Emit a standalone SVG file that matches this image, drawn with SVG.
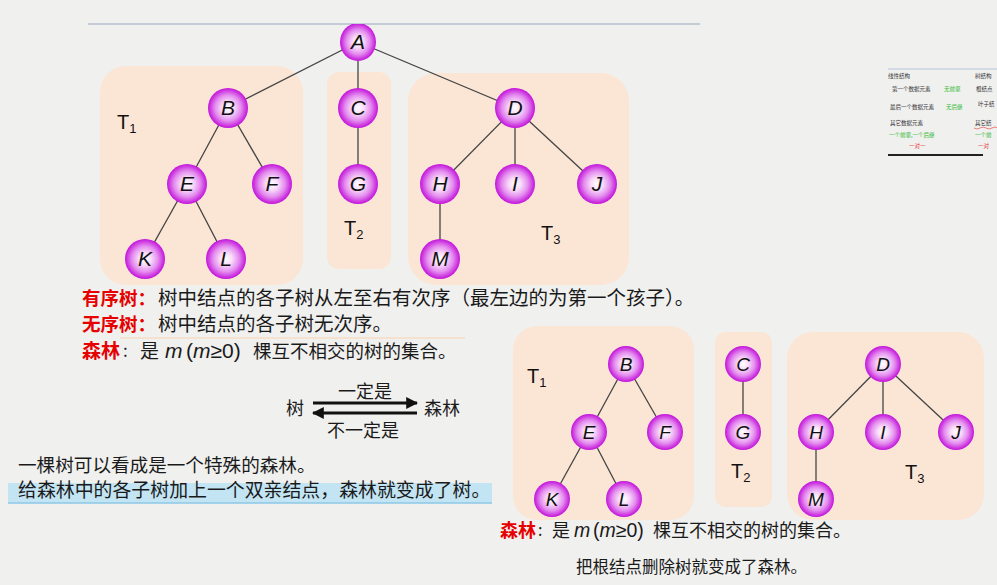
<svg xmlns="http://www.w3.org/2000/svg" width="997" height="585" viewBox="0 0 997 585">
<defs>
<radialGradient id="ball" cx="50%" cy="50%" r="50%">
<stop offset="0" stop-color="#ffffff"/>
<stop offset="0.3" stop-color="#f9dcf9"/>
<stop offset="0.65" stop-color="#e48cef"/>
<stop offset="1" stop-color="#c313da"/>
</radialGradient>
<marker id="ah" viewBox="0 0 10 10" refX="9" refY="5" markerWidth="4" markerHeight="4" orient="auto" markerUnits="strokeWidth">
<path d="M0,0 L10,5 L0,10 z" fill="#111"/>
</marker>
<clipPath id="topclip"><rect x="0" y="24" width="997" height="561"/></clipPath>
</defs>
<style>
.box{fill:#fbe6d6}
.edge{stroke:#444;stroke-width:1.3;fill:none}
.nd{fill:url(#ball)}
.lt{font-family:"Liberation Sans",Arial,sans-serif;font-style:italic;fill:#111;text-anchor:middle}
.big{font-size:21px}
.sm{font-size:19px}
.tl{font-family:"Liberation Sans",Arial,sans-serif;fill:#111;font-size:20px}
.sub{font-size:13px}
.cn{font-family:"Noto Sans CJK SC","Liberation Sans",sans-serif;fill:#1a1a1a}
.red{fill:#e60000;font-weight:bold}
.th{font-family:"Noto Sans CJK SC",sans-serif;font-size:5.5px;fill:#333}
.g{fill:#33bb33}
.r{fill:#e53333}
</style>
<rect width="997" height="585" fill="#f0f0ef"/>

<!-- top separator line -->
<line x1="88" y1="24" x2="700" y2="24" stroke="#b4c0cc" stroke-width="1.5"/>

<!-- boxes top -->
<g id="boxes-top">
<rect class="box" x="100" y="66" width="203" height="219" rx="26"/>
<rect class="box" x="327" y="72" width="64" height="197" rx="12"/>
<rect class="box" x="408" y="73" width="221" height="212" rx="28"/>
</g>
<!-- boxes bottom -->
<g id="boxes-bottom">
<rect class="box" x="513" y="326" width="181" height="194" rx="24"/>
<rect class="box" x="715" y="332" width="57" height="175" rx="10"/>
<rect class="box" x="787" y="332" width="197" height="188" rx="26"/>
</g>

<g id="connectors">
<line class="edge" x1="358" y1="42" x2="228" y2="108"/>
<line class="edge" x1="358" y1="42" x2="358" y2="108"/>
<line class="edge" x1="358" y1="42" x2="515" y2="108"/>
<line class="edge" x1="228" y1="108" x2="187" y2="184"/>
<line class="edge" x1="228" y1="108" x2="272" y2="184"/>
<line class="edge" x1="187" y1="184" x2="145" y2="259"/>
<line class="edge" x1="187" y1="184" x2="226" y2="259"/>
<line class="edge" x1="358" y1="108" x2="358" y2="184"/>
<line class="edge" x1="515" y1="108" x2="440" y2="184"/>
<line class="edge" x1="515" y1="108" x2="515" y2="184"/>
<line class="edge" x1="515" y1="108" x2="597" y2="184"/>
<line class="edge" x1="440" y1="184" x2="440" y2="259"/>

<line class="edge" x1="626" y1="364" x2="589" y2="432"/>
<line class="edge" x1="626" y1="364" x2="665" y2="432"/>
<line class="edge" x1="589" y1="432" x2="552" y2="499"/>
<line class="edge" x1="589" y1="432" x2="624" y2="499"/>
<line class="edge" x1="743" y1="364" x2="743" y2="432"/>
<line class="edge" x1="883" y1="364" x2="816" y2="432"/>
<line class="edge" x1="883" y1="364" x2="883" y2="432"/>
<line class="edge" x1="883" y1="364" x2="956" y2="432"/>
<line class="edge" x1="816" y1="432" x2="816" y2="499"/>
</g>

<!-- top tree nodes -->
<g id="A" clip-path="url(#topclip)"><ellipse class="nd" cx="358" cy="42" rx="18" ry="19"/><text class="lt big" x="358" y="49">A</text></g>
<g id="B"><circle class="nd" cx="228" cy="108" r="20"/><text class="lt big" x="228" y="115">B</text></g>
<g id="C"><circle class="nd" cx="358" cy="108" r="20"/><text class="lt big" x="358" y="115">C</text></g>
<g id="D"><circle class="nd" cx="515" cy="108" r="20"/><text class="lt big" x="515" y="115">D</text></g>
<g id="E"><circle class="nd" cx="187" cy="184" r="20"/><text class="lt big" x="187" y="191">E</text></g>
<g id="F"><circle class="nd" cx="272" cy="184" r="20"/><text class="lt big" x="272" y="191">F</text></g>
<g id="G"><circle class="nd" cx="358" cy="184" r="20"/><text class="lt big" x="358" y="191">G</text></g>
<g id="H"><circle class="nd" cx="440" cy="184" r="20"/><text class="lt big" x="440" y="191">H</text></g>
<g id="I"><circle class="nd" cx="515" cy="184" r="20"/><text class="lt big" x="515" y="191">I</text></g>
<g id="J"><circle class="nd" cx="597" cy="184" r="20"/><text class="lt big" x="597" y="191">J</text></g>
<g id="K"><circle class="nd" cx="145" cy="259" r="20"/><text class="lt big" x="145" y="266">K</text></g>
<g id="L"><circle class="nd" cx="226" cy="259" r="20"/><text class="lt big" x="226" y="266">L</text></g>
<g id="M"><circle class="nd" cx="440" cy="259" r="20"/><text class="lt big" x="440" y="266">M</text></g>

<g id="T1-label"><text class="tl" x="117" y="129">T<tspan class="sub" dy="4">1</tspan></text></g>
<g id="T2-label"><text class="tl" x="344" y="235">T<tspan class="sub" dy="4">2</tspan></text></g>
<g id="T3-label"><text class="tl" x="541" y="240">T<tspan class="sub" dy="4">3</tspan></text></g>

<!-- bottom forest nodes -->
<g id="B2"><circle class="nd" cx="626" cy="364" r="18"/><text class="lt sm" x="626" y="371">B</text></g>
<g id="C2"><circle class="nd" cx="743" cy="364" r="18"/><text class="lt sm" x="743" y="371">C</text></g>
<g id="D2"><circle class="nd" cx="883" cy="364" r="18"/><text class="lt sm" x="883" y="371">D</text></g>
<g id="E2"><circle class="nd" cx="589" cy="432" r="18"/><text class="lt sm" x="589" y="439">E</text></g>
<g id="F2"><circle class="nd" cx="665" cy="432" r="18"/><text class="lt sm" x="665" y="439">F</text></g>
<g id="G2"><circle class="nd" cx="743" cy="432" r="18"/><text class="lt sm" x="743" y="439">G</text></g>
<g id="H2"><circle class="nd" cx="816" cy="432" r="18"/><text class="lt sm" x="816" y="439">H</text></g>
<g id="I2"><circle class="nd" cx="883" cy="432" r="18"/><text class="lt sm" x="883" y="439">I</text></g>
<g id="J2"><circle class="nd" cx="956" cy="432" r="18"/><text class="lt sm" x="956" y="439">J</text></g>
<g id="K2"><circle class="nd" cx="552" cy="499" r="18"/><text class="lt sm" x="552" y="506">K</text></g>
<g id="L2"><circle class="nd" cx="624" cy="499" r="18"/><text class="lt sm" x="624" y="506">L</text></g>
<g id="M2"><circle class="nd" cx="816" cy="499" r="18"/><text class="lt sm" x="816" y="506">M</text></g>

<g id="T1b-label"><text class="tl" x="527" y="383" font-size="19">T<tspan class="sub" dy="4">1</tspan></text></g>
<g id="T2b-label"><text class="tl" x="731" y="478" font-size="19">T<tspan class="sub" dy="4">2</tspan></text></g>
<g id="T3b-label"><text class="tl" x="905" y="479" font-size="19">T<tspan class="sub" dy="4">3</tspan></text></g>

<!-- definitions -->
<line x1="120" y1="338" x2="465" y2="338" stroke="#f6dcc6" stroke-width="1.5"/>
<g id="def-ordered">
<text class="cn red" x="82" y="305" font-size="18.5">有序树：</text>
<text class="cn" x="158" y="305" font-size="19.5">树中结点的各子树从左至右有次序（最左边的为第一个孩子）。</text>
</g>
<g id="def-unordered">
<text class="cn red" x="82" y="331" font-size="18.5">无序树：</text>
<text class="cn" x="158" y="331" font-size="19.5">树中结点的各子树无次序。</text>
</g>
<g id="def-forest">
<text class="cn red" x="82" y="358" font-size="19">森林</text>
<text class="cn" x="123" y="357" font-size="17" fill="#777">:</text>
<text class="cn" x="140" y="358" font-size="19">是</text>
<text x="165" y="358" font-family="Liberation Sans,Arial,sans-serif" font-size="21" fill="#1a1a1a"><tspan font-style="italic">m</tspan><tspan x="186">(</tspan><tspan font-style="italic">m</tspan><tspan>≥0)</tspan></text>
<text class="cn" x="253" y="358" font-size="18.5">棵互不相交的树的集合。</text>
</g>

<!-- tree / forest arrows -->
<g id="tree-forest">
<text class="cn" x="286" y="415" font-size="18">树</text>
<text class="cn" x="424" y="415" font-size="18">森林</text>
<text class="cn" x="338" y="398" font-size="18">一定是</text>
<text class="cn" x="327" y="437" font-size="18">不一定是</text>
</g>
<g id="arrows">
<line x1="313" y1="403" x2="417" y2="403" stroke="#111" stroke-width="3" marker-end="url(#ah)"/>
<line x1="417" y1="413" x2="313" y2="413" stroke="#111" stroke-width="3" marker-end="url(#ah)"/>
</g>

<g id="notes">
<text class="cn" x="18" y="472" font-size="18.6">一棵树可以看成是一个特殊的森林。</text>
<rect x="8" y="483" width="484" height="20" fill="#c3e4f3"/>
<line x1="8" y1="503" x2="492" y2="503" stroke="#8cc8e6" stroke-width="1.5"/>
<text class="cn" x="18" y="497" font-size="18.9" fill="#3f4a55">给森林中的各子树加上一个双亲结点，森林就变成了树。</text>
</g>

<g id="forest-def2">
<text class="cn red" x="500" y="537" font-size="18">森林</text>
<text class="cn" x="538" y="536" font-size="16" fill="#777">:</text>
<text class="cn" x="552" y="537" font-size="18">是</text>
<text x="574" y="537" font-family="Liberation Sans,Arial,sans-serif" font-size="19.5" fill="#1a1a1a"><tspan font-style="italic">m</tspan><tspan x="593">(</tspan><tspan font-style="italic">m</tspan><tspan>≥0)</tspan></text>
<text class="cn" x="653" y="537" font-size="18">棵互不相交的树的集合。</text>
<text class="cn" x="576" y="573" font-size="16.5">把根结点删除树就变成了森林。</text>
</g>

<!-- thumbnail -->
<g id="thumbnail">
<line x1="888" y1="69" x2="997" y2="69" stroke="#b8c6dc" stroke-width="1"/>
<text class="th" x="888" y="78" fill="#7080c0">线性结构</text>
<text class="th" x="975" y="78" fill="#7080c0">树结构</text>
<text class="th" x="892" y="91">第一个数据元素</text>
<text class="th g" x="944" y="91">无前驱</text>
<text class="th" x="976" y="91">根结点</text>
<text class="th" x="890" y="109">最后一个数据元素</text>
<text class="th g" x="946" y="109">无后继</text>
<text class="th" x="978" y="106">叶子结</text>
<text class="th" x="890" y="125">其它数据元素</text>
<text class="th" x="975" y="125">其它结</text>
<path d="M974,128 q3,2 6,0 t6,0 t6,0 t6,0" stroke="#e53333" stroke-width="0.6" fill="none"/>
<text class="th g" x="889" y="137">一个前驱,一个后继</text>
<text class="th g" x="975" y="137">一个前</text>
<text class="th r" x="909" y="148">一对一</text>
<text class="th r" x="978" y="148">一对</text>
<line x1="888" y1="155" x2="983" y2="155" stroke="#222" stroke-width="2"/>
</g>
</svg>
